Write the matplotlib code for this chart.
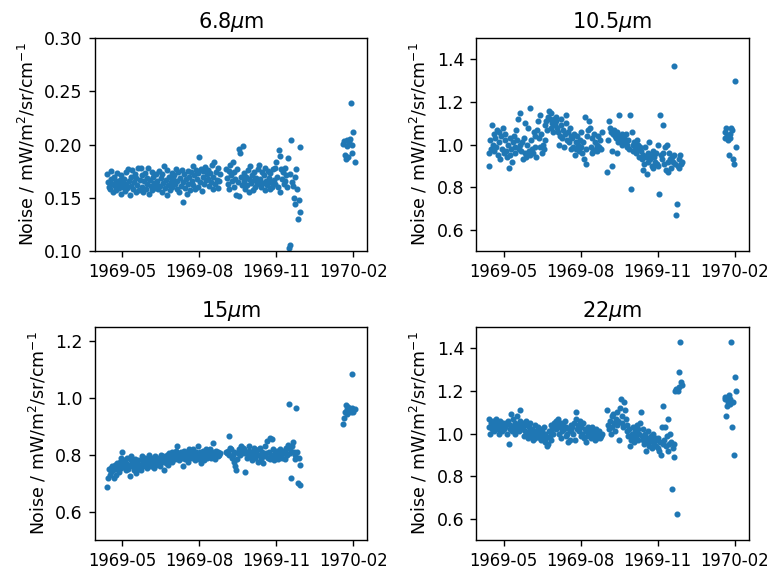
import numpy as np
import matplotlib
matplotlib.use('Agg')
import matplotlib.pyplot as plt
import matplotlib.dates as mdates

# observation days, counted from 1969-04-13
start = np.datetime64('1969-04-13')
days = [0, 1, 2, 3, 4, 5, 6, 7, 8, 9, 10, 11, 12, 13, 14, 15, 16, 17, 18, 19,
        20, 21, 22, 23, 24, 25, 26, 27, 28, 29, 30, 31, 32, 33, 34, 35, 36, 37, 38, 39,
        40, 41, 42, 43, 44, 45, 46, 47, 48, 49, 50, 51, 52, 53, 54, 55, 56, 57, 58, 59,
        60, 61, 62, 63, 64, 65, 66, 67, 68, 69, 70, 71, 72, 73, 74, 75, 76, 77, 78, 79,
        80, 81, 82, 83, 84, 85, 86, 87, 88, 89, 90, 91, 92, 93, 94, 95, 96, 97, 98, 99,
        100, 101, 102, 103, 104, 105, 106, 107, 108, 109, 110, 111, 112, 113, 114, 115, 116, 117, 118, 119,
        120, 121, 122, 123, 124, 125, 126, 127, 128, 129, 130, 131, 132, 133, 134, 135,
        142, 143, 144, 145, 146, 147, 148, 149, 150, 151, 152, 153, 154, 155, 156, 157, 158, 159, 160, 161,
        162, 163, 164, 165, 166, 167, 168, 169, 170, 171, 172, 173, 174, 175, 176, 177, 178, 179, 180, 181,
        182, 183, 184, 185, 186, 187, 188, 189, 190, 191, 192, 193, 194, 195, 196, 197, 198, 199, 200, 201,
        202, 203, 204, 205, 206, 207, 208, 209, 210, 211, 212, 213, 214, 215, 216, 217, 218, 219, 220, 221,
        222, 223, 224, 225, 226, 227, 228, 229, 230, 231,
        282, 283, 284, 285, 286, 287, 288, 289, 290, 291, 292, 293, 294, 296]

noise_68 = [0.172, 0.165, 0.160, 0.158, 0.168, 0.175, 0.163, 0.155, 0.170, 0.161, 0.166, 0.157, 0.173, 0.162, 0.159, 0.167, 0.154, 0.171, 0.164, 0.160,
            0.168, 0.156, 0.174, 0.163, 0.159, 0.177, 0.166, 0.153, 0.170, 0.161, 0.176, 0.158, 0.165, 0.172, 0.155, 0.169, 0.162, 0.178, 0.157, 0.167,
            0.178, 0.160, 0.171, 0.155, 0.166, 0.173, 0.158, 0.169, 0.163, 0.178, 0.154, 0.167, 0.161, 0.174, 0.157, 0.170, 0.164, 0.159, 0.172, 0.162,
            0.166, 0.158, 0.175, 0.161, 0.169, 0.155, 0.172, 0.164, 0.180, 0.159, 0.167, 0.153, 0.176, 0.162, 0.170, 0.157, 0.165, 0.173, 0.160, 0.168,
            0.171, 0.163, 0.177, 0.158, 0.166, 0.174, 0.155, 0.169, 0.161, 0.176, 0.146, 0.165, 0.172, 0.159, 0.168, 0.154, 0.175, 0.163, 0.170, 0.157,
            0.174, 0.166, 0.180, 0.162, 0.171, 0.158, 0.176, 0.168, 0.173, 0.160, 0.188, 0.165, 0.177, 0.156, 0.170, 0.175, 0.163, 0.179, 0.167, 0.172,
            0.168, 0.176, 0.161, 0.173, 0.165, 0.181, 0.158, 0.170, 0.184, 0.163, 0.174, 0.167, 0.159, 0.178, 0.166, 0.172,
            0.177, 0.169, 0.163, 0.175, 0.158, 0.181, 0.171, 0.166, 0.184, 0.160, 0.174, 0.168, 0.153, 0.177, 0.165, 0.152, 0.196, 0.192, 0.170, 0.162,
            0.199, 0.166, 0.173, 0.158, 0.170, 0.162, 0.176, 0.155, 0.168, 0.180, 0.164, 0.171, 0.157, 0.167, 0.174, 0.160, 0.169, 0.163, 0.177, 0.165,
            0.181, 0.168, 0.160, 0.174, 0.164, 0.171, 0.157, 0.178, 0.166, 0.162, 0.175, 0.169, 0.158, 0.173, 0.165, 0.160, 0.177, 0.167, 0.163, 0.178,
            0.184, 0.170, 0.160, 0.195, 0.189, 0.155, 0.177, 0.168, 0.174, 0.163, 0.178, 0.166, 0.171, 0.160, 0.187, 0.103, 0.172, 0.106, 0.204, 0.165,
            0.161, 0.150, 0.144, 0.170, 0.177, 0.158, 0.130, 0.148, 0.198, 0.137,
            0.201, 0.203, 0.190, 0.186, 0.204, 0.199, 0.188, 0.202, 0.205, 0.239, 0.200, 0.192, 0.212, 0.184]

noise_105 = [0.96, 0.90, 1.02, 0.98, 1.09, 1.00, 0.97, 1.05, 1.03, 0.99, 1.07, 0.95, 1.01, 1.06, 0.93, 1.04, 0.98, 1.08, 0.96, 1.02,
             1.05, 0.97, 0.94, 1.00, 0.89, 0.95, 1.03, 0.98, 0.92, 1.01, 1.04, 0.99, 0.96, 1.07, 1.02, 1.12, 0.98, 1.15, 1.00, 0.97,
             1.01, 0.93, 1.03, 1.10, 0.96, 0.94, 1.00, 1.08, 0.97, 1.17, 0.95, 1.02, 0.98, 0.96, 1.06, 0.99, 1.04, 0.94, 1.07, 1.11,
             1.03, 1.14, 0.99, 1.05, 0.96, 1.00, 0.98, 1.02, 1.09, 1.11, 1.07, 1.13, 1.16, 1.12, 1.08, 1.15, 1.10, 1.06, 1.12, 1.09,
             1.11, 1.13, 1.08, 1.06, 1.00, 1.04, 1.09, 1.12, 1.03, 1.07, 0.99, 1.05, 1.14, 1.10, 1.02, 1.06, 1.01, 1.08, 1.04, 0.98,
             1.03, 0.99, 1.05, 0.95, 1.01, 0.98, 1.04, 1.00, 0.97, 1.02, 0.99, 1.06, 0.96, 1.01, 0.93, 1.13, 0.98, 0.91, 1.04, 1.07,
             1.11, 1.08, 0.99, 0.96, 1.03, 0.97, 1.05, 1.01, 0.98, 1.00, 0.97, 1.04, 0.99, 1.02, 0.98, 1.06,
             0.87, 1.02, 1.11, 1.08, 1.06, 0.97, 0.90, 1.05, 1.07, 1.04, 1.03, 0.96, 1.06, 1.01, 1.14, 1.04, 1.02, 1.05, 1.00, 1.03,
             1.03, 1.01, 1.05, 0.99, 1.00, 1.02, 0.98, 1.14, 0.79, 1.06, 1.00, 0.97, 1.01, 0.99, 0.96, 1.02, 0.98, 1.00, 0.94, 0.99,
             0.97, 0.93, 0.88, 0.95, 0.91, 0.99, 0.94, 0.86, 0.96, 0.92, 1.01, 0.93, 0.95, 0.90, 0.97, 0.89, 0.94, 0.92, 0.96, 0.91,
             1.00, 0.90, 0.77, 1.14, 0.95, 0.93, 0.96, 1.09, 0.91, 0.99, 0.88, 1.00, 0.92, 0.87, 0.96, 0.93, 0.89, 0.94, 0.92, 0.95,
             1.37, 0.91, 0.67, 0.72, 0.90, 0.93, 0.89, 0.95, 0.91, 0.92,
             1.06, 1.03, 1.08, 1.04, 1.02, 0.95, 1.05, 1.03, 1.08, 1.07, 0.93, 0.91, 1.30, 0.99]

noise_15 = [0.685, 0.72, 0.75, 0.73, 0.755, 0.74, 0.76, 0.745, 0.72, 0.765, 0.75, 0.73, 0.77, 0.76, 0.74, 0.775, 0.755, 0.79, 0.81, 0.765,
            0.78, 0.76, 0.745, 0.77, 0.79, 0.75, 0.765, 0.725, 0.78, 0.795, 0.76, 0.77, 0.745, 0.785, 0.76, 0.735, 0.77, 0.78, 0.75, 0.765,
            0.745, 0.78, 0.795, 0.76, 0.775, 0.79, 0.77, 0.755, 0.785, 0.765, 0.80, 0.775, 0.76, 0.79, 0.77, 0.78, 0.755, 0.795, 0.765, 0.775,
            0.77, 0.785, 0.79, 0.76, 0.80, 0.78, 0.775, 0.795, 0.745, 0.785, 0.77, 0.80, 0.79, 0.765, 0.805, 0.78, 0.79, 0.81, 0.775, 0.795,
            0.80, 0.785, 0.815, 0.79, 0.83, 0.795, 0.78, 0.805, 0.81, 0.79, 0.76, 0.80, 0.815, 0.785, 0.795, 0.81, 0.80, 0.775, 0.82, 0.79,
            0.80, 0.815, 0.79, 0.82, 0.805, 0.78, 0.81, 0.795, 0.83, 0.80, 0.785, 0.81, 0.77, 0.80, 0.815, 0.795, 0.78, 0.805, 0.82, 0.79,
            0.81, 0.795, 0.80, 0.82, 0.79, 0.805, 0.84, 0.81, 0.80, 0.785, 0.815, 0.80, 0.81, 0.795, 0.80, 0.805,
            0.81, 0.805, 0.815, 0.80, 0.865, 0.825, 0.82, 0.79, 0.80, 0.775, 0.81, 0.76, 0.745, 0.785, 0.805, 0.82, 0.815, 0.80, 0.83, 0.81,
            0.825, 0.82, 0.805, 0.74, 0.81, 0.79, 0.80, 0.83, 0.815, 0.795, 0.81, 0.78, 0.80, 0.825, 0.805, 0.79, 0.815, 0.80, 0.775, 0.82,
            0.80, 0.825, 0.785, 0.81, 0.77, 0.795, 0.80, 0.83, 0.805, 0.85, 0.79, 0.81, 0.86, 0.785, 0.80, 0.855, 0.82, 0.78, 0.795, 0.81,
            0.80, 0.815, 0.785, 0.81, 0.795, 0.82, 0.80, 0.79, 0.815, 0.805, 0.785, 0.81, 0.825, 0.80, 0.835, 0.98, 0.82, 0.805, 0.72, 0.83,
            0.845, 0.81, 0.80, 0.785, 0.965, 0.81, 0.70, 0.79, 0.695, 0.765,
            0.91, 0.93, 0.95, 0.975, 0.96, 0.945, 0.97, 0.96, 0.955, 0.95, 0.965, 1.083, 0.95, 0.96]

noise_22 = [1.07, 1.03, 1.00, 1.05, 1.02, 1.06, 1.04, 1.01, 1.03, 1.07, 1.05, 1.02, 1.00, 1.04, 1.06, 1.03, 1.01, 1.05, 1.02, 1.04,
            1.03, 1.05, 1.00, 1.06, 0.95, 1.02, 1.04, 1.09, 1.01, 1.07, 1.03, 1.00, 1.05, 1.02, 1.08, 1.04, 1.01, 1.06, 1.11, 1.03,
            1.05, 1.02, 0.99, 1.04, 1.01, 1.06, 1.00, 0.98, 1.03, 1.01, 1.05, 0.99, 1.02, 0.97, 1.00, 1.04, 0.98, 1.01, 0.99, 1.03,
            1.00, 0.98, 1.02, 0.97, 1.01, 0.99, 1.03, 0.96, 1.00, 0.98, 0.94, 0.95, 1.01, 0.99, 0.97, 1.04, 1.02, 1.00, 1.05, 1.03,
            1.06, 1.02, 1.04, 1.07, 1.00, 1.03, 1.05, 0.98, 1.01, 1.04, 1.02, 1.06, 0.99, 1.03, 1.00, 0.96, 1.02, 0.97, 1.04, 1.01,
            1.03, 1.00, 1.05, 0.97, 1.10, 1.07, 1.02, 1.04, 1.01, 1.06, 0.99, 1.03, 1.00, 1.05, 0.98, 1.02, 0.96, 1.01, 0.99, 1.03,
            1.00, 1.02, 0.98, 1.01, 1.03, 0.99, 1.00, 0.97, 1.02, 0.98, 1.00, 0.99, 1.01, 0.98, 0.99, 1.00,
            1.11, 1.04, 1.02, 1.06, 1.00, 1.03, 1.08, 1.09, 1.05, 1.01, 1.07, 1.04, 1.10, 1.06, 0.97, 1.12, 1.16, 1.05, 1.08, 1.03,
            1.15, 1.11, 1.07, 1.04, 1.01, 0.99, 1.02, 0.94, 0.97, 1.00, 0.98, 1.03, 0.96, 1.01, 0.99, 1.04, 0.97, 1.02, 1.00, 1.05,
            1.10, 0.99, 0.97, 1.02, 0.95, 1.00, 0.92, 0.98, 0.96, 1.01, 0.94, 0.97, 0.99, 0.93, 0.96, 1.00, 0.95, 0.98, 0.94, 0.97,
            0.98, 0.93, 0.92, 0.96, 0.90, 1.03, 0.95, 1.13, 0.97, 1.03, 0.94, 0.99, 0.92, 1.07, 0.95, 1.00, 0.96, 0.74, 0.93, 0.95,
            0.89, 1.20, 1.21, 0.62, 1.20, 1.22, 1.29, 1.43, 1.24, 1.23,
            1.17, 1.16, 1.08, 1.13, 1.15, 1.18, 1.14, 1.16, 1.43, 1.03, 1.15, 0.90, 1.265, 1.20]

titles = [r'6.8$\mu$m', r'10.5$\mu$m', r'15$\mu$m', r'22$\mu$m']
series = [noise_68, noise_105, noise_15, noise_22]
ylims = [(0.10, 0.30), (0.5, 1.5), (0.5, 1.25), (0.5, 1.5)]
yticks = [[0.10, 0.15, 0.20, 0.25, 0.30], [0.6, 0.8, 1.0, 1.2, 1.4],
          [0.6, 0.8, 1.0, 1.2], [0.6, 0.8, 1.0, 1.2, 1.4]]

dates = start + np.array(days, dtype='timedelta64[D]')

fig, axes = plt.subplots(2, 2, figsize=(771 / 125, 569 / 125), dpi=125)
for ax, title, vals, yl, yt in zip(axes.flat, titles, series, ylims, yticks):
    ax.plot(dates, vals, '.', color='C0', markersize=5)
    ax.set_title(title)
    ax.set_ylim(yl)
    ax.set_yticks(yt)
    ax.set_ylabel(r'Noise / mW/m$^2$/sr/cm$^{-1}$')
    ax.xaxis.set_major_locator(mdates.MonthLocator(bymonth=[2, 5, 8, 11]))
    ax.xaxis.set_major_formatter(mdates.DateFormatter('%Y-%m'))
    ax.tick_params(axis='x', labelsize=9.5)

fig.subplots_adjust(left=0.123, right=0.971, top=0.933, bottom=0.051,
                    wspace=0.40, hspace=0.357)
fig.savefig('out.png', dpi=125)
